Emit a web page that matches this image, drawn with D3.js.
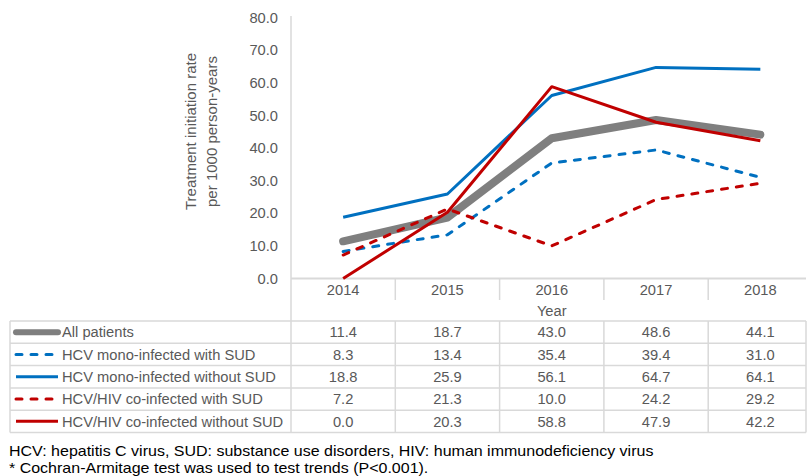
<!DOCTYPE html>
<html>
<head>
<meta charset="utf-8">
<script src="https://cdn.jsdelivr.net/npm/d3@7"></script>
<style>
  html, body { margin: 0; padding: 0; background: #fff; }
  svg { display: block; font-family: "Liberation Sans", Arial, sans-serif; }
</style>
</head>
<body>
<svg id="chart" width="807" height="476"></svg>
<script>
const years = ["2014", "2015", "2016", "2017", "2018"];
const seriesNames = [
  "All patients",
  "HCV mono-infected with SUD",
  "HCV mono-infected without SUD",
  "HCV/HIV co-infected with SUD",
  "HCV/HIV co-infected without SUD"
];
const allPatients = [11.4, 18.7, 43.0, 48.6, 44.1];
const monoWithSUD = [8.3, 13.4, 35.4, 39.4, 31.0];
const monoWithoutSUD = [18.8, 25.9, 56.1, 64.7, 64.1];
const coWithSUD = [7.2, 21.3, 10.0, 24.2, 29.2];
const coWithoutSUD = [0.0, 20.3, 58.8, 47.9, 42.2];
const yTicks = [0, 10, 20, 30, 40, 50, 60, 70, 80];
const yTitle = ["Treatment initiation rate", "per 1000 person-years"];
const xTitle = "Year";
const footnotes = [
  "HCV: hepatitis C virus, SUD: substance use disorders, HIV: human immunodeficiency virus",
  "* Cochran-Armitage test was used to test trends (P<0.001)."
];

const seriesValues = [allPatients, monoWithSUD, monoWithoutSUD, coWithSUD, coWithoutSUD];
const styles = [
  { color: "#7f7f7f", width: 8, dash: null },
  { color: "#0070c0", width: 3, dash: "6,9" },
  { color: "#0070c0", width: 3, dash: null },
  { color: "#c00000", width: 3, dash: "6,9" },
  { color: "#c00000", width: 3, dash: null }
];

const svg = d3.select("#chart");
const gridColor = "#d9d9d9";
const textColor = "#595959";
const fs = "14.7px";

const left = 291, bandW = 104.3;
const x = d3.scaleBand().domain(years).range([left, left + bandW * years.length]).paddingInner(0).paddingOuter(0);
const y = d3.scaleLinear().domain([0, 80]).range([278.5, 17.5]);

const tableLeft = 10, tableRight = 806;
const tableTop = 321, rowH = 22.3;

// y-axis tick labels
const yAxis = d3.axisLeft(y).tickValues(yTicks).tickFormat(d3.format(".1f")).tickSize(0).tickPadding(13);
const gy = svg.append("g").attr("transform", `translate(${left},0)`).call(yAxis);
gy.select(".domain").remove();
gy.selectAll("text").attr("fill", textColor).style("font-size", fs).style("font-family", "Liberation Sans, Arial, sans-serif");

// y title
const yt = svg.append("text")
  .attr("transform", `translate(200,${(17 + 278) / 2 - 16}) rotate(-90)`)
  .attr("text-anchor", "middle")
  .attr("fill", textColor)
  .style("font-size", "15px");
yt.selectAll("tspan").data(yTitle).join("tspan")
  .attr("x", 0).attr("dy", (d, i) => i === 0 ? "-4" : "21").text(d => d);

// axis lines
svg.append("line").attr("x1", left).attr("x2", left).attr("y1", 16).attr("y2", tableTop + rowH * 5)
  .attr("stroke", gridColor).attr("stroke-width", 1.5);
svg.append("line").attr("x1", left).attr("x2", tableRight).attr("y1", y(0)).attr("y2", y(0))
  .attr("stroke", gridColor).attr("stroke-width", 2);

// x category separators
svg.selectAll(".sep").data(years.slice(1)).join("line")
  .attr("x1", d => x(d)).attr("x2", d => x(d))
  .attr("y1", y(0)).attr("y2", 300)
  .attr("stroke", gridColor).attr("stroke-width", 1.5);

// x tick labels
svg.selectAll(".xl").data(years).join("text")
  .attr("x", d => x(d) + x.bandwidth() / 2).attr("y", 294.5)
  .attr("text-anchor", "middle").attr("fill", textColor).style("font-size", fs)
  .text(d => d);

svg.append("text").attr("x", x("2016") + x.bandwidth() / 2).attr("y", 316)
  .attr("text-anchor", "middle").attr("fill", textColor).style("font-size", fs).text(xTitle);

// lines
const line = d3.line().x((d, i) => x(years[i]) + x.bandwidth() / 2).y(d => y(d));
seriesValues.forEach((vals, i) => {
  const s = styles[i];
  svg.append("path").datum(vals).attr("d", line)
    .attr("fill", "none").attr("stroke", s.color).attr("stroke-width", s.width)
    .attr("stroke-linejoin", "round")
    .attr("stroke-linecap", s.dash ? "round" : (i === 0 ? "round" : "butt"))
    .attr("stroke-dasharray", s.dash);
});

// data table
const tg = svg.append("g");
for (let r = 0; r <= 5; r++) {
  tg.append("line").attr("x1", tableLeft).attr("x2", tableRight)
    .attr("y1", tableTop + r * rowH).attr("y2", tableTop + r * rowH)
    .attr("stroke", gridColor).attr("stroke-width", 1.5);
}
tg.append("line").attr("x1", tableLeft).attr("x2", tableLeft).attr("y1", tableTop).attr("y2", tableTop + 5 * rowH)
  .attr("stroke", gridColor).attr("stroke-width", 1.5);
tg.append("line").attr("x1", tableRight).attr("x2", tableRight).attr("y1", tableTop).attr("y2", tableTop + 5 * rowH)
  .attr("stroke", gridColor).attr("stroke-width", 1.5);
years.slice(1).forEach(yr => {
  tg.append("line").attr("x1", x(yr)).attr("x2", x(yr)).attr("y1", tableTop).attr("y2", tableTop + 5 * rowH)
    .attr("stroke", gridColor).attr("stroke-width", 1.5);
});

seriesNames.forEach((name, r) => {
  const cy = tableTop + r * rowH + rowH / 2;
  const s = styles[r];
  tg.append("line").attr("x1", 16).attr("x2", 58).attr("y1", cy).attr("y2", cy)
    .attr("stroke", s.color).attr("stroke-width", r === 0 ? 6 : 3)
    .attr("stroke-linecap", r === 0 ? "round" : (s.dash ? "round" : "butt"))
    .attr("stroke-dasharray", s.dash);
  tg.append("text").attr("x", 62).attr("y", cy + 5.2).attr("fill", textColor)
    .style("font-size", fs).text(name);
  seriesValues[r].forEach((v, i) => {
    tg.append("text").attr("x", x(years[i]) + x.bandwidth() / 2).attr("y", cy + 5.2)
      .attr("text-anchor", "middle").attr("fill", textColor).style("font-size", fs)
      .text(d3.format(".1f")(v));
  });
});

// footnotes: measured at 16px width, drawn at 15px height-stretched to same width
const fn = svg.selectAll(".fn").data(footnotes).join("text")
  .attr("x", 9).attr("y", (d, i) => 455.5 + i * 17)
  .attr("fill", "#000").style("font-size", "16px").text(d => d);
fn.each(function() {
  const w = this.getComputedTextLength();
  d3.select(this).style("font-size", "15px")
    .attr("textLength", w).attr("lengthAdjust", "spacingAndGlyphs");
});
</script>
</body>
</html>
